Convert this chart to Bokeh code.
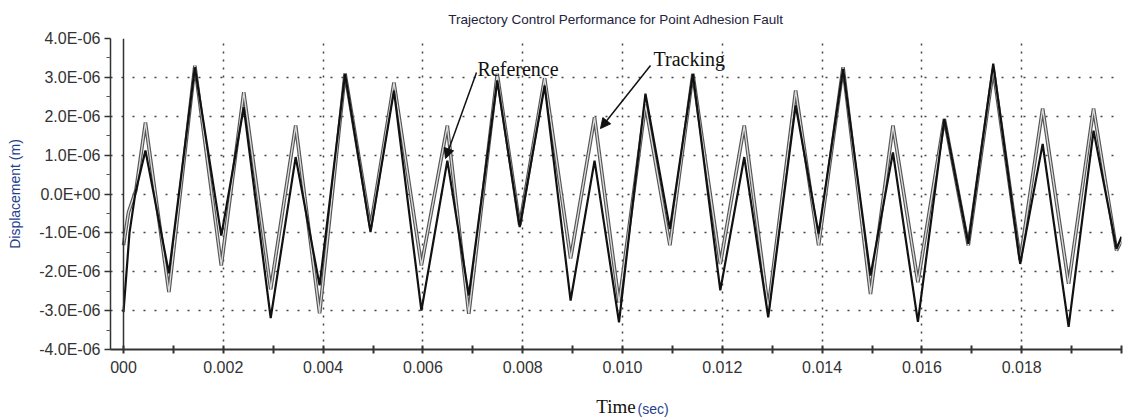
from bokeh.plotting import figure
from bokeh.models import (Range1d, FixedTicker, Span, Label, Arrow, NormalHead,
                          ColumnDataSource, Title)
from bokeh.embed import file_html
from bokeh.resources import INLINE

# ---------------- data ----------------
# time in seconds, displacement in micrometres (x1E-06 m)
ref_time = [0.0, 0.00012, 0.00024, 0.00044, 0.00091, 0.00143, 0.00196, 0.00241,
            0.00295, 0.00345, 0.00393, 0.00444, 0.00495, 0.00542, 0.00597,
            0.00649, 0.00692, 0.00749, 0.00794, 0.00844, 0.00896, 0.00944,
            0.00993, 0.01046, 0.01095, 0.01141, 0.01196, 0.01244, 0.01292,
            0.01347, 0.01393, 0.01442, 0.01497, 0.01542, 0.01592, 0.01645,
            0.01693, 0.01743, 0.01797, 0.01842, 0.01894, 0.01944, 0.0199, 0.0200]
ref_disp = [-3.04, -1.0, 0.04, 1.12, -2.04, 3.26, -1.07, 2.23,
            -3.19, 0.95, -2.35, 3.09, -0.98, 2.66, -3.0,
            0.86, -2.61, 2.92, -0.85, 2.79, -2.74, 0.86,
            -3.3, 2.58, -0.9, 3.09, -2.48, 0.95, -3.17,
            2.28, -1.02, 3.22, -2.1, 1.07, -3.29, 1.93,
            -1.28, 3.35, -1.8, 1.29, -3.42, 1.63, -1.41, -1.1]

trk_time = [0.0, 0.0001, 0.00025, 0.00044, 0.00091, 0.00143, 0.00196, 0.00241,
            0.00295, 0.00345, 0.00393, 0.00444, 0.00495, 0.00542, 0.00597,
            0.00649, 0.00692, 0.00749, 0.00794, 0.00844, 0.00896, 0.00944,
            0.00993, 0.01046, 0.01095, 0.01141, 0.01196, 0.01244, 0.01292,
            0.01347, 0.01393, 0.01442, 0.01497, 0.01542, 0.01592, 0.01645,
            0.01693, 0.01743, 0.01797, 0.01842, 0.01894, 0.01944, 0.0199, 0.0200]
trk_disp = [-1.32, -0.47, 0.1, 1.84, -2.52, 3.3, -1.84, 2.62,
            -2.45, 1.76, -3.07, 3.1, -0.85, 2.87, -1.84,
            1.76, -3.08, 3.09, -0.8, 2.98, -1.66, 1.97,
            -2.8, 2.3, -1.32, 3.09, -1.8, 1.76, -2.95,
            2.66, -1.32, 3.26, -2.57, 1.76, -2.27, 1.93,
            -1.32, 3.2, -1.7, 2.2, -2.31, 2.2, -1.45, -1.2]

x_ticks = [0.0, 0.002, 0.004, 0.006, 0.008, 0.010, 0.012, 0.014, 0.016, 0.018, 0.020]
x_tick_labels = ["000", "0.002", "0.004", "0.006", "0.008", "0.010", "0.012",
                 "0.014", "0.016", "0.018", ""]
x_minor = [0.001, 0.003, 0.005, 0.007, 0.009, 0.011, 0.013, 0.015, 0.017, 0.019]
y_ticks = [-4, -3, -2, -1, 0, 1, 2, 3, 4]
y_tick_labels = ["-4.0E-06", "-3.0E-06", "-2.0E-06", "-1.0E-06", "0.0E+00",
                 "1.0E-06", "2.0E-06", "3.0E-06", "4.0E-06"]
y_minor = [-3.5, -2.5, -1.5, -0.5, 0.5, 1.5, 2.5, 3.5]

title_text = "Trajectory Control Performance for Point Adhesion Fault"
y_label_text = "Displacement (m)"
x_label_text = "Time"
x_unit_text = "(sec)"

# ---------------- layout helpers (pixel -> data for annotations) ----------------
FL, FR, FT, FB = 110, 1121, 38, 349
X0_PX, PX_PER_S = 123.0, 49900.0
Y0_PX, PX_PER_UM = 193.5, 38.9


def dx(px):
    return (px - X0_PX) / PX_PER_S


def dy(py):
    return (Y0_PX - py) / PX_PER_UM


p = figure(width=1123, height=420, output_backend="svg", toolbar_location=None,
           x_range=Range1d(dx(FL), dx(FR)), y_range=Range1d(-4, 4),
           min_border_left=FL, min_border_right=1123 - FR,
           min_border_top=FT, min_border_bottom=420 - FB)
p.outline_line_color = None
p.background_fill_color = "white"
p.border_fill_color = "white"

# title
p.title.text = title_text
p.title.align = "center"
p.title.vertical_align = "top"
p.title.text_font = "Liberation Sans"
p.title.text_font_size = "13.5px"
p.title.text_font_style = "normal"
p.title.text_color = "#22223a"
p.title.standoff = 20

# axes
xa = p.xaxis[0]
xa.ticker = FixedTicker(ticks=x_ticks, minor_ticks=x_minor)
xa.major_label_overrides = dict(zip(x_ticks, x_tick_labels))
xa.axis_line_color = "#333333"
xa.axis_line_width = 2
xa.major_tick_in = 4
xa.major_tick_out = 4
xa.minor_tick_in = 4
xa.minor_tick_out = 4
xa.major_tick_line_color = "#333333"
xa.minor_tick_line_color = "#333333"
xa.major_tick_line_width = 2
xa.minor_tick_line_width = 2
xa.major_label_text_font = "Liberation Sans"
xa.major_label_text_font_size = "16px"
xa.major_label_text_color = "#333333"
xa.major_label_standoff = 7
xa.axis_label = x_label_text
xa.axis_label_text_font = "Liberation Serif"
xa.axis_label_text_font_size = "19px"
xa.axis_label_text_font_style = "normal"
xa.axis_label_text_color = "#111111"
xa.axis_label_standoff = 20

p.add_layout(Title(text=x_unit_text, align="left", offset=637 - FL,
                   vertical_align="top", standoff=-38,
                   text_font="Liberation Sans", text_font_size="14px",
                   text_font_style="normal", text_color="#1f3f8f"), "below")

ya = p.yaxis[0]
ya.ticker = FixedTicker(ticks=y_ticks, minor_ticks=y_minor)
ya.major_label_overrides = dict(zip(y_ticks, y_tick_labels))
ya.axis_line_color = "#333333"
ya.axis_line_width = 1.5
ya.major_tick_in = 0
ya.major_tick_out = 6
ya.minor_tick_in = 0
ya.minor_tick_out = 4
ya.major_tick_line_color = "#333333"
ya.minor_tick_line_color = "#555555"
ya.major_tick_line_width = 1.5
ya.major_label_text_font = "Liberation Sans"
ya.major_label_text_font_size = "16px"
ya.major_label_text_color = "#333333"
ya.major_label_standoff = 4
ya.axis_label = y_label_text
ya.axis_label_text_font = "Liberation Sans"
ya.axis_label_text_font_size = "14px"
ya.axis_label_text_font_style = "normal"
ya.axis_label_text_color = "#1f3f8f"
ya.axis_label_standoff = 13

# grids (dotted)
p.xgrid.ticker = FixedTicker(ticks=x_ticks[1:])
p.xgrid.grid_line_color = "#444444"
p.xgrid.grid_line_dash = "2 6"
p.xgrid.grid_line_width = 1.5
p.ygrid.ticker = FixedTicker(ticks=y_ticks[1:])
p.ygrid.grid_line_color = "#444444"
p.ygrid.grid_line_dash = "2 9"
p.ygrid.grid_line_width = 1.5

# solid vertical line at t = 0
p.add_layout(Span(location=0, dimension="height", line_color="#333333", line_width=1.5))

# curves
trk = ColumnDataSource(dict(t=trk_time, d=trk_disp))
ref = ColumnDataSource(dict(t=ref_time, d=ref_disp))
p.line("t", "d", source=trk, line_color="#555555", line_width=3.6)
p.line("t", "d", source=trk, line_color="#dcdcdc", line_width=1.3)
p.line("t", "d", source=ref, line_color="#111111", line_width=2.2)

# annotations inside the frame
p.add_layout(Label(x=dx(477), y=dy(68), text="Reference", text_align="left",
                   text_baseline="alphabetic", text_font="Liberation Serif",
                   text_font_size="20px", text_color="#111111"))
p.add_layout(Label(x=dx(653), y=dy(58), text="Tracking", text_align="left",
                   text_baseline="alphabetic", text_font="Liberation Serif",
                   text_font_size="20px", text_color="#111111"))

p.add_layout(Arrow(end=NormalHead(size=10, fill_color="#111111", line_color="#111111"),
                   x_start=dx(476), y_start=dy(72), x_end=dx(445), y_end=dy(158),
                   line_color="#111111", line_width=1.5))
p.add_layout(Arrow(end=NormalHead(size=10, fill_color="#111111", line_color="#111111"),
                   x_start=dx(650), y_start=dy(65), x_end=dx(600), y_end=dy(128),
                   line_color="#111111", line_width=1.5))

open("out.html", "w").write(file_html(p, INLINE))
